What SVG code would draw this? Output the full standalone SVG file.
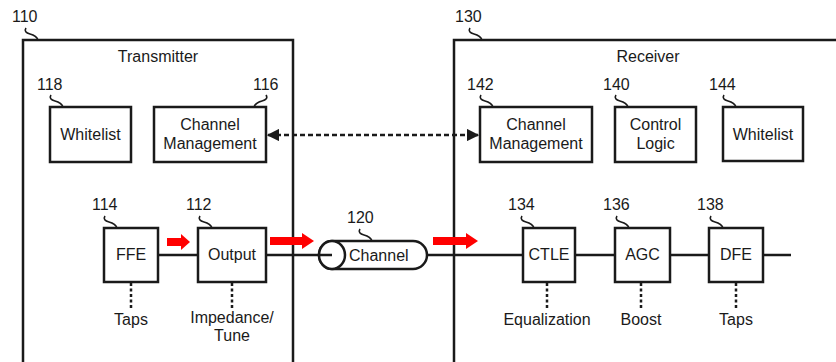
<svg xmlns="http://www.w3.org/2000/svg" width="836" height="362" viewBox="0 0 836 362">
<defs>
<style>
text{font-family:"Liberation Sans",Arial,sans-serif;font-size:16px;fill:#1a1a1a;}
.c{text-anchor:middle;}
.box{fill:#fff;stroke:#1a1a1a;stroke-width:2.5;}
.frame{fill:none;stroke:#1a1a1a;stroke-width:2.5;}
.sq{fill:none;stroke:#1a1a1a;stroke-width:1.6;}
.wire{stroke:#1a1a1a;stroke-width:2.5;fill:none;}
.dot{stroke:#1a1a1a;stroke-width:2.5;stroke-dasharray:3,2.5;fill:none;}
.dash{stroke:#1a1a1a;stroke-width:2.5;stroke-dasharray:5,3;fill:none;}
.red{fill:#ff0000;}
</style>
<path id="sq" d="M0,0 c-2,3 0,5 4,6 c4,1 7,3 8,6"/>
<marker id="ah" viewBox="0 0 10 10" refX="9" refY="5" markerWidth="5" markerHeight="5" orient="auto-start-reverse" markerUnits="strokeWidth">
<path d="M0,0 L10,5 L0,10 z" fill="#1a1a1a"/>
</marker>
</defs>
<rect width="836" height="362" fill="#fff"/>

<g id="transmitter">
<rect class="frame" x="23" y="40" width="270" height="330"/>
<text class="c" x="158" y="62">Transmitter</text>
<text x="12" y="22">110</text>
<use href="#sq" class="sq" x="26" y="28"/>
</g>
<g id="receiver">
<rect class="frame" x="454" y="40" width="400" height="330"/>
<text class="c" x="648" y="62">Receiver</text>
<text x="455" y="22">130</text>
<use href="#sq" class="sq" x="470" y="28"/>
</g>

<g id="connectors">
<line class="dash" x1="268" y1="135" x2="478" y2="135" marker-start="url(#ah)" marker-end="url(#ah)"/>
<line class="wire" x1="158" y1="255" x2="198" y2="255"/>
<line class="wire" x1="266" y1="255" x2="332" y2="255"/>
<line class="wire" x1="427" y1="255" x2="523" y2="255"/>
<line class="wire" x1="575" y1="255" x2="615" y2="255"/>
<line class="wire" x1="670" y1="255" x2="709" y2="255"/>
<line class="wire" x1="763" y1="255" x2="791" y2="255"/>
<line class="dot" x1="131" y1="283" x2="131" y2="310"/>
<line class="dot" x1="232" y1="283" x2="232" y2="310"/>
<line class="dot" x1="547" y1="283" x2="547" y2="310"/>
<line class="dot" x1="641" y1="283" x2="641" y2="310"/>
<line class="dot" x1="736" y1="283" x2="736" y2="310"/>
<polygon class="red" points="167,238 181,238 181,234 190,242 181,250 181,246 167,246"/>
<polygon class="red" points="270,237 302,237 302,233 314,241 302,249 302,245 270,245"/>
<polygon class="red" points="433,237 466,237 466,233 478,241 466,249 466,245 433,245"/>
</g>

<g id="n118">
<rect class="box" x="50" y="107" width="81" height="55"/>
<text class="c" x="90.5" y="140">Whitelist</text>
<text x="37" y="90">118</text>
<use href="#sq" class="sq" x="51" y="95"/>
</g>
<g id="n116">
<rect class="box" x="154" y="107" width="112" height="55"/>
<text class="c" x="210" y="130">Channel</text>
<text class="c" x="210" y="149">Management</text>
<text x="253" y="90">116</text>
<use href="#sq" class="sq" transform="translate(266,95) scale(-1,1)"/>
</g>
<g id="n142">
<rect class="box" x="480" y="107" width="112" height="55"/>
<text class="c" x="536" y="130">Channel</text>
<text class="c" x="536" y="149">Management</text>
<text x="467" y="90">142</text>
<use href="#sq" class="sq" x="481" y="95"/>
</g>
<g id="n140">
<rect class="box" x="615" y="107" width="81" height="55"/>
<text class="c" x="655.5" y="130">Control</text>
<text class="c" x="655.5" y="149">Logic</text>
<text x="603" y="90">140</text>
<use href="#sq" class="sq" x="616" y="95"/>
</g>
<g id="n144">
<rect class="box" x="723" y="107" width="80" height="54"/>
<text class="c" x="763" y="140">Whitelist</text>
<text x="709" y="90">144</text>
<use href="#sq" class="sq" x="724" y="95"/>
</g>

<g id="n114">
<rect class="box" x="104" y="228" width="54" height="54"/>
<text class="c" x="131" y="260">FFE</text>
<text x="92" y="210">114</text>
<use href="#sq" class="sq" x="105" y="216"/>
<text class="c" x="131" y="325">Taps</text>
</g>
<g id="n112">
<rect class="box" x="198" y="228" width="68" height="54"/>
<text class="c" x="232" y="260">Output</text>
<text x="186" y="210">112</text>
<use href="#sq" class="sq" x="200" y="216"/>
<text class="c" x="232" y="323">Impedance/</text>
<text class="c" x="232" y="341">Tune</text>
</g>
<g id="n120">
<path class="box" d="M332,241 H413 A14,14 0 0 1 413,269 H332 A13,14 0 0 1 332,241 Z"/>
<ellipse class="box" cx="332" cy="255" rx="13" ry="14"/>
<line class="wire" x1="319" y1="255" x2="332" y2="255"/>
<text x="349" y="261">Channel</text>
<text x="347" y="223">120</text>
<use href="#sq" class="sq" x="360" y="229"/>
</g>
<g id="n134">
<rect class="box" x="523" y="228" width="52" height="54"/>
<text class="c" x="549" y="260">CTLE</text>
<text x="508" y="210">134</text>
<use href="#sq" class="sq" x="522" y="216"/>
<text class="c" x="547" y="325">Equalization</text>
</g>
<g id="n136">
<rect class="box" x="615" y="228" width="55" height="54"/>
<text class="c" x="642.5" y="260">AGC</text>
<text x="603" y="210">136</text>
<use href="#sq" class="sq" x="617" y="216"/>
<text class="c" x="641" y="325">Boost</text>
</g>
<g id="n138">
<rect class="box" x="709" y="228" width="54" height="54"/>
<text class="c" x="736" y="260">DFE</text>
<text x="697" y="210">138</text>
<use href="#sq" class="sq" x="711" y="216"/>
<text class="c" x="736" y="325">Taps</text>
</g>
</svg>
